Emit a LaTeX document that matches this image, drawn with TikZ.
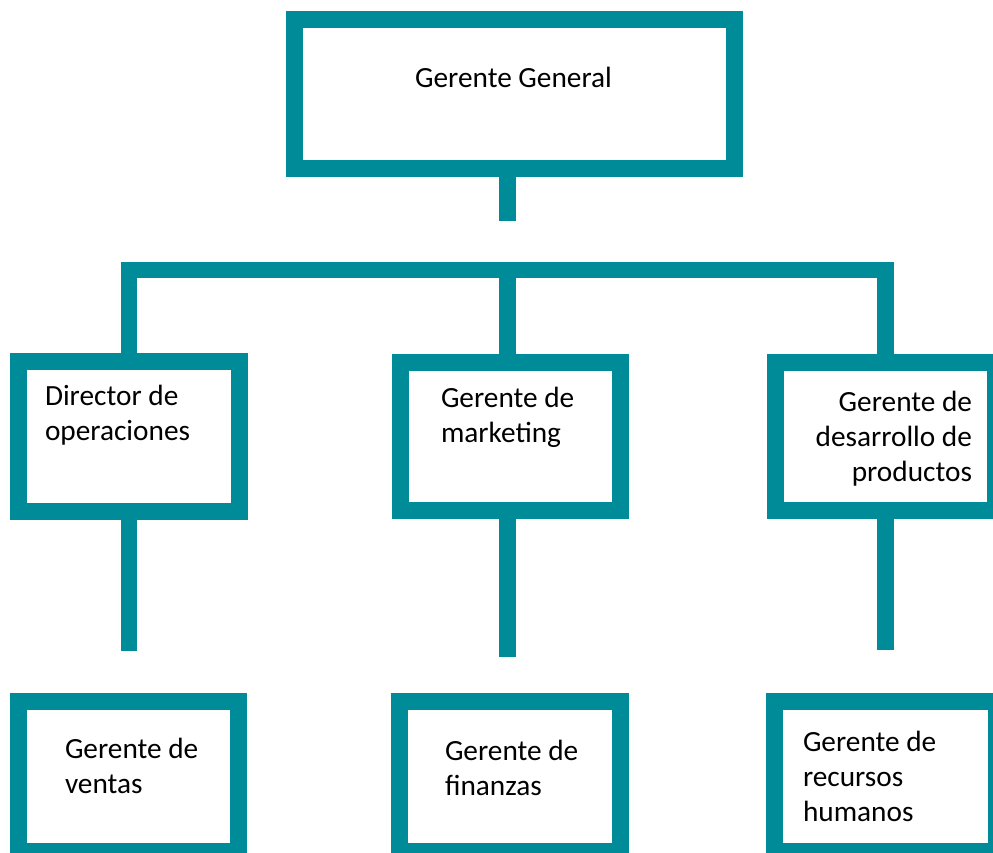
\documentclass[tikz,border=0pt]{standalone}
\usepackage{fontspec}
\setmainfont{Carlito}
\definecolor{orgteal}{RGB}{0,139,152}
\begin{document}
\begin{tikzpicture}[x=1pt,y=-1pt,
  orgbox/.style={draw=orgteal,line width=17pt,rectangle,inner sep=0pt,outer sep=0pt,fill=white},
  link/.style={draw=orgteal,line width=16.5pt,line cap=butt,line join=miter},
  lbl/.style={font=\fontsize{29.3}{35}\selectfont,inner sep=0pt,outer sep=0pt,text=black}]
\useasboundingbox (0,0) rectangle (993,853);
% boxes
\node[orgbox,minimum width=440pt,minimum height=149pt] (gg) at (514.5,94) {};
\node[orgbox,minimum width=221pt,minimum height=150pt] (dir) at (129,436.5) {};
\node[orgbox,minimum width=220pt,minimum height=148pt] (mkt) at (510.5,436.5) {};
\node[orgbox,minimum width=220pt,minimum height=148pt] (prod) at (885.5,436.5) {};
\node[orgbox,minimum width=220pt,minimum height=150pt] (ven) at (128.5,776.5) {};
\node[orgbox,minimum width=221pt,minimum height=150pt] (fin) at (510,776.5) {};
\node[orgbox,minimum width=222pt,minimum height=150pt] (rh) at (885.5,776.5) {};
% connector points
\coordinate (ggend) at (507.5,221);
\coordinate (cbar) at (507.5,270);
\coordinate (dirend) at (129,651);
\coordinate (mktend) at (507.5,657);
\coordinate (prodend) at (885.5,650);
% connectors
\draw[link] (gg.south -| cbar) -- (ggend);
\draw[link] (dir.north) |- (cbar) -| (prod.north);
\draw[link] (cbar) -- (cbar |- mkt.north);
\draw[link] (dir.south) -- (dirend);
\draw[link] (mkt.south -| mktend) -- (mktend);
\draw[link] (prod.south) -- (prodend);
% labels (base anchor = baseline of last line)
\node[lbl,anchor=base] (tgg) at (513.5,88) {Gerente General};
\node[lbl,anchor=base west,align=left] (tdir) at (45,440) {Director de\\operaciones};
\node[lbl,anchor=base west,align=left] (tmkt) at (441,442) {Gerente de\\marketing};
\node[lbl,anchor=base east,align=right] (tprod) at (972,481) {Gerente de\\desarrollo de\\productos};
\node[lbl,anchor=base west,align=left] (tven) at (65,793) {Gerente de\\ventas};
\node[lbl,anchor=base west,align=left] (tfin) at (445,795) {Gerente de\\finanzas};
\node[lbl,anchor=base west,align=left] (trh) at (803,821) {Gerente de\\recursos\\humanos};
\end{tikzpicture}
\end{document}
